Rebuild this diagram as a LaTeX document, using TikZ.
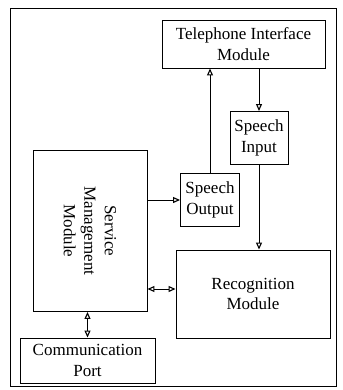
\documentclass[tikz,border=0pt]{standalone}
\usepackage{fontspec}
\setmainfont{Liberation Serif}
\usetikzlibrary{arrows.meta}

\begin{document}
\begin{tikzpicture}[x=1pt,y=-1pt,
  box/.style={draw,line width=0.9pt,align=center,inner sep=2pt,
    font=\fontsize{17}{20.5}\selectfont},
  link/.style={line width=0.8pt,-{Triangle[open,length=7pt,width=6pt,line width=1.1pt]}},
  biglink/.style={line width=0.8pt,{Triangle[open,length=7pt,width=6pt,line width=1.1pt]}-{Triangle[open,length=7pt,width=6pt,line width=1.1pt]}}]
\useasboundingbox (0,0) rectangle (342,390);

% outer frame
\draw [line width=0.6pt] (10,8) rectangle (336,386);

% boxes
\node [box,minimum width=163pt,minimum height=48pt] (tim) at (243.5,44) {Telephone Interface\\Module};
\node [box,minimum width=58pt,minimum height=53pt] (sin) at (259,138) {Speech\\Input};
\node [box,minimum width=59pt,minimum height=53pt] (sout) at (210,200) {Speech\\Output};
\node [box,minimum width=161pt,minimum height=114pt,rotate=-90] (smm) at (90,231) {Service\\Management\\Module};
\node [box,minimum width=154pt,minimum height=88pt] (rec) at (253,294) {Recognition\\Module};
\node [box,minimum width=135pt,minimum height=45pt] (port) at (87.5,360.5) {Communication\\Port};

% speech path
\draw [link] (sout.north) -- (sout.north |- tim.south);
\draw [link] (sin.north |- tim.south) -- (sin.north);
\draw [link] (sin.south) -- (sin.south |- rec.north);

% service management links
\draw [link] (sout.west -| smm.north) -- (sout.west);
\draw [biglink] ([yshift=5pt]rec.west -| smm.north) -- ([yshift=5pt]rec.west);
\draw [biglink] (port.north |- smm.east) -- (port.north);
\end{tikzpicture}
\end{document}
